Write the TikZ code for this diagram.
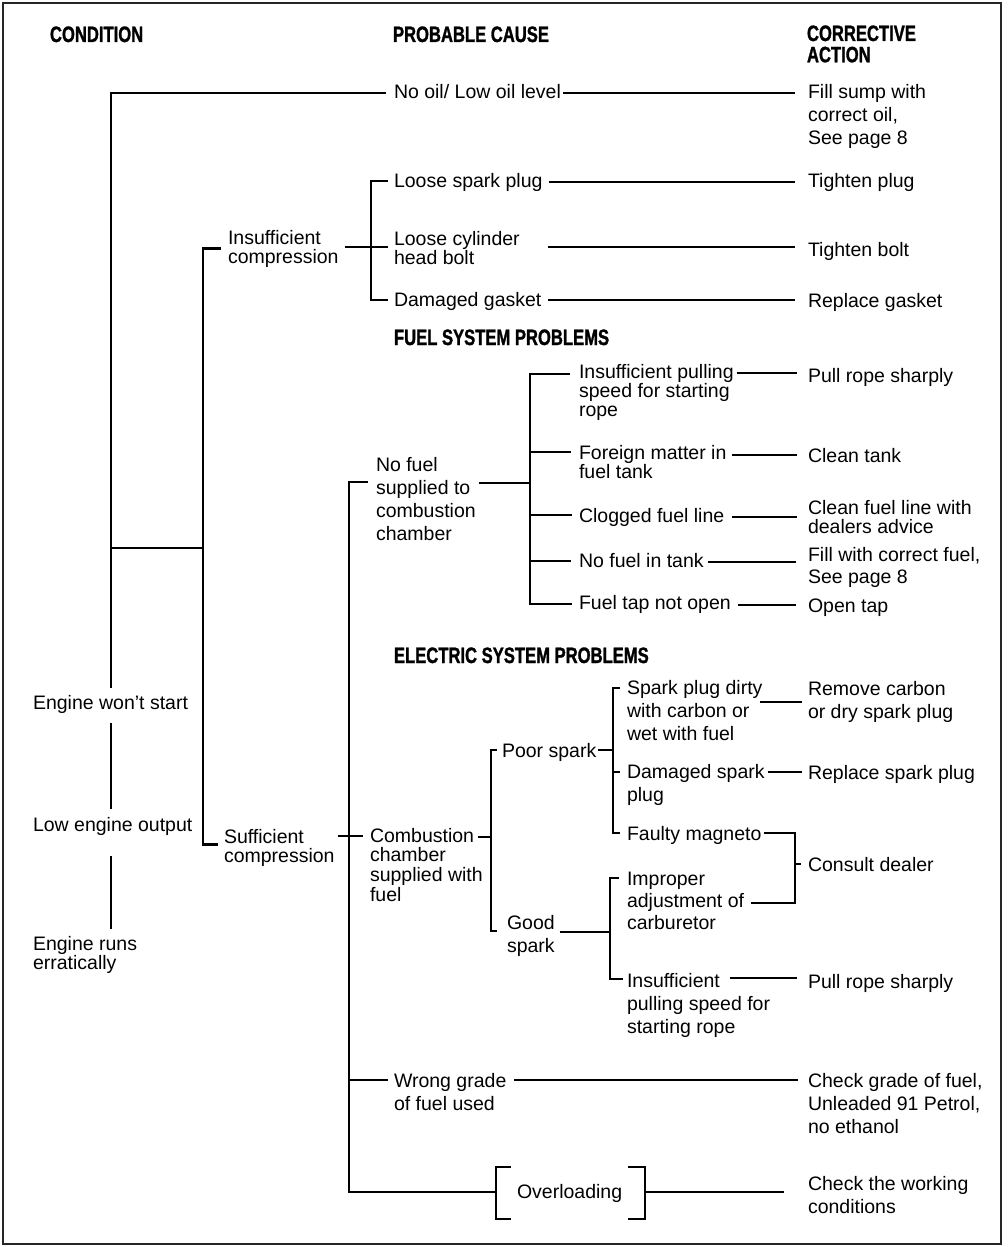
\documentclass[tikz,border=0pt]{standalone}
\usepackage{fontspec}
\setmainfont{Liberation Sans}
\newfontfamily\hdfont[FakeStretch=0.745,FakeBold=1.2]{Liberation Sans}
\usetikzlibrary{calc}
\newcommand\mlt[1]{\begin{tabular}[t]{@{}l@{}}#1\end{tabular}}
\begin{document}
\begin{tikzpicture}[x=1pt,y=-1pt,
  tx/.style={anchor=base west, inner sep=0pt, outer sep=0pt, font=\fontsize{19.5}{23}\selectfont},
  tt/.style={anchor=base west, inner sep=0pt, outer sep=0pt, font=\fontsize{19.5}{19}\selectfont},
  tm/.style={anchor=base west, inner sep=0pt, outer sep=0pt, font=\fontsize{19.5}{22}\selectfont},
  hd/.style={anchor=base west, inner sep=0pt, outer sep=0pt, font=\hdfont\bfseries\fontsize{22.3}{19}\selectfont},
  ln/.style={line width=2.5pt},
  frame/.style={line width=2.2pt, draw=black!85}]
\useasboundingbox (0,0) rectangle (1007,1247);
\draw[frame] (3,3) rectangle (1001,1244);

% headers
\node[hd] (hCond) at (50,42) {CONDITION};
\node[hd] (hCause) at (393,42) {PROBABLE CAUSE};
\node[hd] (hAct) at (807,41) {\mlt{CORRECTIVE\\ACTION}};
\node[hd] (hFuel) at (394,345) {FUEL SYSTEM PROBLEMS};
\node[hd] (hElec) at (394,663) {ELECTRIC SYSTEM PROBLEMS};

% conditions
\node[tx] (cWont) at (33,709) {\mlt{Engine won’t start}};
\node[tx] (cLow) at (33,831) {\mlt{Low engine output}};
\node[tt] (cRuns) at (33,950) {\mlt{Engine runs\\erratically}};

% causes
\node[tx] (noOil) at (394,99) {\mlt{No oil/ Low oil level}};
\node[tt] (insComp) at (228,244) {\mlt{Insufficient\\compression}};
\node[tx] (looseSpark) at (394,187) {\mlt{Loose spark plug}};
\node[tt] (looseCyl) at (394,245) {\mlt{Loose cylinder\\head bolt}};
\node[tx] (dmgGasket) at (394,306) {\mlt{Damaged gasket}};
\node[tt] (suffComp) at (224,843) {\mlt{Sufficient\\compression}};
\node[tx] (noFuel) at (376,471) {\mlt{No fuel\\supplied to\\combustion\\chamber}};
\node[tt] (combCh) at (370,842) {\mlt{Combustion\\chamber\\supplied with\\fuel}};
\node[tx] (wrongGrade) at (394,1087) {\mlt{Wrong grade\\of fuel used}};
\node[tx] (overload) at (517,1198) {\mlt{Overloading}};

% fuel system
\node[tt] (insPull1) at (579,378) {\mlt{Insufficient pulling\\speed for starting\\rope}};
\node[tt] (foreign) at (579,459) {\mlt{Foreign matter in\\fuel tank}};
\node[tx] (clogged) at (579,522) {\mlt{Clogged fuel line}};
\node[tx] (noFuelTank) at (579,567) {\mlt{No fuel in tank}};
\node[tx] (tapNot) at (579,609) {\mlt{Fuel tap not open}};

% electric system
\node[tx] (poorSpark) at (502,757) {\mlt{Poor spark}};
\node[tx] (goodSpark) at (507,929) {\mlt{Good\\spark}};
\node[tx] (sparkDirty) at (627,694) {\mlt{Spark plug dirty\\with carbon or\\wet with fuel}};
\node[tx] (dmgSpark) at (627,778) {\mlt{Damaged spark\\plug}};
\node[tx] (faulty) at (627,840) {\mlt{Faulty magneto}};
\node[tm] (improper) at (627,885) {\mlt{Improper\\adjustment of\\carburetor}};
\node[tx] (insPull2) at (627,987) {\mlt{Insufficient\\pulling speed for\\starting rope}};

% corrective actions
\node[tx] (fillSump) at (808,98) {\mlt{Fill sump with\\correct oil,\\See page 8}};
\node[tx] (tightenPlug) at (808,187) {\mlt{Tighten plug}};
\node[tx] (tightenBolt) at (808,256) {\mlt{Tighten bolt}};
\node[tx] (replGasket) at (808,307) {\mlt{Replace gasket}};
\node[tx] (pullRope1) at (808,382) {\mlt{Pull rope sharply}};
\node[tx] (cleanTank) at (808,462) {\mlt{Clean tank}};
\node[tt] (cleanLine) at (808,514) {\mlt{Clean fuel line with\\dealers advice}};
\node[tm] (fillFuel) at (808,561) {\mlt{Fill with correct fuel,\\See page 8}};
\node[tx] (openTap) at (808,612) {\mlt{Open tap}};
\node[tx] (removeCarbon) at (808,695) {\mlt{Remove carbon\\or dry spark plug}};
\node[tx] (replSpark) at (808,779) {\mlt{Replace spark plug}};
\node[tx] (consult) at (808,871) {\mlt{Consult dealer}};
\node[tx] (pullRope2) at (808,988) {\mlt{Pull rope sharply}};
\node[tx] (checkGrade) at (808,1087) {\mlt{Check grade of fuel,\\Unleaded 91 Petrol,\\no ethanol}};
\node[tx] (checkWork) at (808,1190) {\mlt{Check the working\\conditions}};

% junction coordinates
\coordinate (A1) at (111,93);
\coordinate (AB) at (111,548);
\coordinate (B1) at (203,548);
\coordinate (C) at (371,247);
\coordinate (D) at (349,1192);
\coordinate (E) at (530,483);
\coordinate (F) at (491,837);
\coordinate (G) at (613,750);
\coordinate (H) at (610,932);
\coordinate (K) at (795,864);

% condition spine
\draw[ln] ($(noOil.base west)+(-8,-6)$) -- (A1) -- ($(A1 |- cWont.north)+(0,-5)$);
\draw[ln] ($(A1 |- cWont.south)+(0,7)$) -- ($(A1 |- cLow.north)+(0,-6)$);
\draw[ln] ($(A1 |- cLow.south)+(0,18)$) -- ($(A1 |- cRuns.north)+(0,-7)$);
\draw[ln] ($(noOil.base east)+(2,-6)$) -- ($(fillSump.base west)+(-13,-5)$);
\draw[ln] (AB) -- (B1);
\draw[ln] ($(insComp.west)+(-7,-1)$) -| (B1) |- ($(suffComp.west)+(-6,-4)$);

% compression
\draw[ln] ($(insComp.base east)+(6,3)$) -- ($(looseCyl.base west)+(-6,2)$);
\draw[ln] ($(looseSpark.base west)+(-6,-6)$) -| (C) |- ($(dmgGasket.base west)+(-6,-6)$);
\draw[ln] ($(looseSpark.base east)+(6,-5)$) -- ($(tightenPlug.base west)+(-13,-5)$);
\draw[ln] ($(looseCyl.base east)+(28,2)$) -- ($(tightenBolt.base west)+(-13,-9)$);
\draw[ln] ($(dmgGasket.base east)+(7,-6)$) -- ($(replGasket.base west)+(-13,-7)$);

% sufficient compression spine
\draw[ln] ($(noFuel.base west)+(-8,11)$) -| (D) -- ($(overload.base west)+(-21,-6)$);
\draw[ln] ($(suffComp.base east)+(3,-7)$) -- ($(combCh.base west)+(-7,-6)$);
\draw[ln] ($(D |- wrongGrade.base west)+(0,-7)$) -- ($(wrongGrade.base west)+(-6,-7)$);
\draw[ln] ($(wrongGrade.base east)+(8,-7)$) -- ($(checkGrade.base west)+(-10,-7)$);
\draw[ln] ($(overload.base west)+(-6,-31)$) -- ++(-15,0) -- ++(0,52) -- ++(15,0);
\draw[ln] ($(overload.base east)+(6,-31)$) -- ++(17,0) -- ++(0,52) -- ++(-17,0);
\draw[ln] ($(overload.base east)+(23,-6)$) -- ($(checkWork.base west)+(-24,2)$);

% fuel system
\draw[ln] ($(noFuel.base east)+(3,12)$) -- (E);
\draw[ln] ($(insPull1.base west)+(-9,-4)$) -| (E) |- ($(tapNot.base west)+(-7,-5)$);
\draw[ln] ($(E |- foreign.base west)+(0,-7)$) -- ($(foreign.base west)+(-8,-7)$);
\draw[ln] ($(E |- clogged.base west)+(0,-7)$) -- ($(clogged.base west)+(-7,-7)$);
\draw[ln] ($(E |- noFuelTank.base west)+(0,-6)$) -- ($(noFuelTank.base west)+(-8,-6)$);
\draw[ln] ($(insPull1.base east)+(3,-5)$) -- ($(pullRope1.base west)+(-11,-9)$);
\draw[ln] ($(foreign.base east)+(6,-4)$) -- ($(cleanTank.base west)+(-11,-7)$);
\draw[ln] ($(clogged.base east)+(8,-5)$) -- ($(cleanLine.base west)+(-11,3)$);
\draw[ln] ($(noFuelTank.base east)+(4,-5)$) -- ($(fillFuel.base west)+(-12,1)$);
\draw[ln] ($(tapNot.base east)+(7,-4)$) -- ($(openTap.base west)+(-12,-7)$);

% electric system
\draw[ln] ($(combCh.base west)+(108,-5)$) -- (F);
\draw[ln] ($(poorSpark.base west)+(-5,-7)$) -| (F) |- ($(goodSpark.base west)+(-10,2)$);
\draw[ln] ($(poorSpark.base east)+(2,-7)$) -- (G);
\draw[ln] ($(sparkDirty.base west)+(-7,-6)$) -| (G) |- ($(faulty.base west)+(-7,-7)$);
\draw[ln] ($(G |- dmgSpark.base west)+(0,-6)$) -- ($(dmgSpark.base west)+(-7,-6)$);
\draw[ln] ($(sparkDirty.base east)+(-2,8)$) -- ($(removeCarbon.base west)+(-6,7)$);
\draw[ln] ($(dmgSpark.base east)+(3,-6)$) -- ($(replSpark.base west)+(-6,-7)$);
\draw[ln] ($(faulty.base east)+(3,-7)$) -| (K) |- ($(improper.base east)+(7,18)$);
\draw[ln] (K) -- ($(consult.base west)+(-7,-7)$);
\draw[ln] ($(goodSpark.base east)+(5,3)$) -- (H);
\draw[ln] ($(improper.base west)+(-8,-7)$) -| (H) |- ($(insPull2.base west)+(-4,-8)$);
\draw[ln] ($(insPull2.base west)+(103,-9)$) -- ($(pullRope2.base west)+(-11,-10)$);
\end{tikzpicture}
\end{document}
